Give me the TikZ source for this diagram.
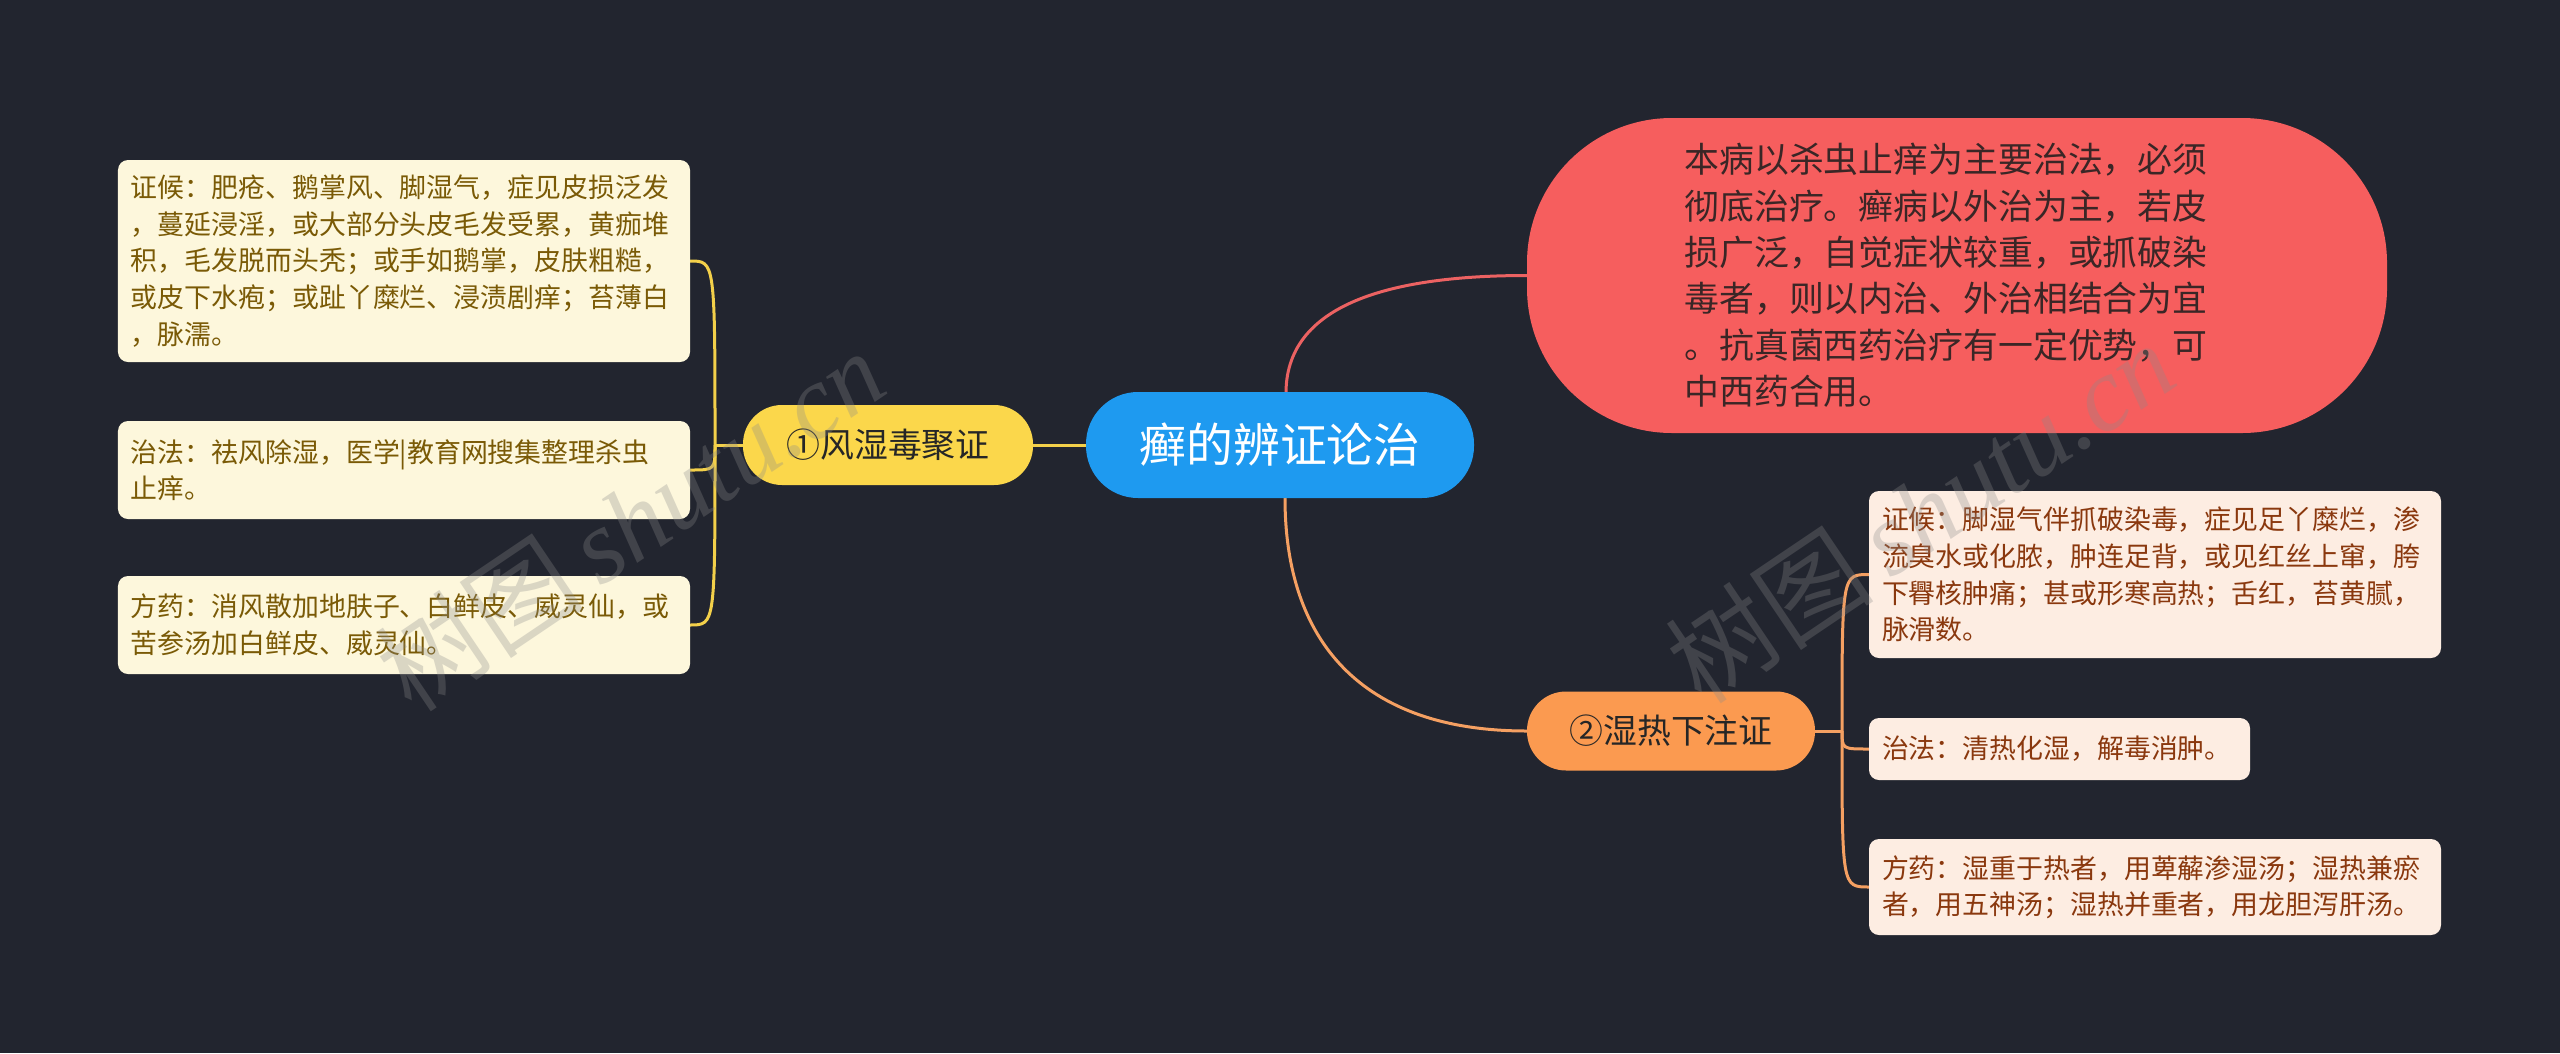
\documentclass[tikz,border=0pt]{standalone}
\usepackage{fontspec}
\setmainfont{Noto Sans CJK SC}
\newfontfamily\wmlatin{Liberation Serif}
\definecolor{bgc}{HTML}{22252F}
\definecolor{rootc}{HTML}{1E9AF0}
\definecolor{yel}{HTML}{FBD74B}
\definecolor{yline}{HTML}{F3D04A}
\definecolor{lboxc}{HTML}{FDF7DC}
\definecolor{ltext}{HTML}{7A5A06}
\definecolor{redc}{HTML}{F65E5E}
\definecolor{rline}{HTML}{EC6262}
\definecolor{redtext}{HTML}{3A2626}
\definecolor{orac}{HTML}{FB9A50}
\definecolor{oline}{HTML}{F5A062}
\definecolor{rboxc}{HTML}{FDEDE2}
\definecolor{rtext}{HTML}{8A380E}
\definecolor{wmc}{HTML}{8A8A8A}
\pgfdeclarelayer{back}
\pgfdeclarelayer{conn}
\pgfsetlayers{back,conn,main}
\begin{document}
\begin{tikzpicture}[x=1bp,y=-1bp,
  rootnode/.style={fill=rootc, text=white, rounded corners=52bp, minimum width=388bp, minimum height=106bp, inner sep=0pt, font=\fontsize{47}{52}\selectfont},
  branchnode/.style={rounded corners=39bp, minimum width=290bp, minimum height=80bp, inner sep=0pt, text=black!85, font=\fontsize{34}{40}\selectfont},
  lbox/.style={fill=lboxc, text=ltext, rounded corners=10bp, align=left, inner xsep=13bp, inner ysep=0pt, font=\fontsize{27}{36.7}\selectfont},
  rbox/.style={fill=rboxc, text=rtext, rounded corners=10bp, align=left, inner xsep=13bp, inner ysep=0pt, font=\fontsize{27}{36.7}\selectfont},
  ylinks/.style={draw=yline, line width=3bp},
  rlinks/.style={draw=rline, line width=3bp},
  olinks/.style={draw=oline, line width=3bp},
  wm/.style={text=wmc, opacity=0.3, inner sep=0pt}
]
\begin{pgfonlayer}{back}
\fill[bgc] (0,0) rectangle (2560,1053);
\end{pgfonlayer}
\useasboundingbox (0,0) rectangle (2560,1053);

% central
\node[rootnode] (root) at (1280,445) {癣的辨证论治};

% branches
\node[branchnode, fill=yel] (b1) at (888,445) {①风湿毒聚证};
\node[branchnode, fill=orac, minimum width=288bp, minimum height=79bp] (b2) at (1671,731) {②湿热下注证};

% red summary
\node[fill=redc, text=redtext, rounded corners=145bp, minimum width=860bp, minimum height=315bp, align=left, text width=545bp, inner xsep=0pt, font=\fontsize{35}{46.5}\selectfont] (sum) at (1957,275.5)
{本病以杀虫止痒为主要治法，必须\\彻底治疗。癣病以外治为主，若皮\\损广泛，自觉症状较重，或抓破染\\毒者，则以内治、外治相结合为宜\\。抗真菌西药治疗有一定优势，可\\中西药合用。};

% left boxes
\node[lbox, text width=546bp, minimum height=202bp] (l1) at (404,261)
{证候：肥疮、鹅掌风、脚湿气，症见皮损泛发\\，蔓延浸淫，或大部分头皮毛发受累，黄痂堆\\积，毛发脱而头秃；或手如鹅掌，皮肤粗糙，\\或皮下水疱；或趾丫糜烂、浸渍剧痒；苔薄白\\，脉濡。};
\node[lbox, text width=546bp, minimum height=98bp] (l2) at (404,470)
{治法：祛风除湿，医学|教育网搜集整理杀虫\\止痒。};
\node[lbox, text width=546bp, minimum height=98bp] (l3) at (404,625)
{方药：消风散加地肤子、白鲜皮、威灵仙，或\\苦参汤加白鲜皮、威灵仙。};

% right boxes
\node[rbox, text width=546bp, minimum height=167bp] (r1) at (2155,574.5)
{证候：脚湿气伴抓破染毒，症见足丫糜烂，渗\\流臭水或化脓，肿连足背，或见红丝上窜，胯\\下臖核肿痛；甚或形寒高热；舌红，苔黄腻，\\脉滑数。};
\node[rbox, text width=355bp, minimum height=62bp] (r2) at (2059.5,749)
{治法：清热化湿，解毒消肿。};
\node[rbox, text width=546bp, minimum height=96bp] (r3) at (2155,887)
{方药：湿重于热者，用萆薢渗湿汤；湿热兼瘀\\者，用五神汤；湿热并重者，用龙胆泻肝汤。};

\coordinate (jl) at (715,445);
\coordinate (jr) at (1842,731);

\begin{pgfonlayer}{conn}
\draw[ylinks] (root.west) -- (b1.east);
\draw[ylinks] (b1.west) -- (jl);
\draw[ylinks] (jl) .. controls (715,261) and (715,261) .. (l1.east);
\draw[ylinks] (jl) .. controls (715,470) and (715,470) .. (l2.east);
\draw[ylinks] (jl) .. controls (715,625) and (715,625) .. (l3.east);
\draw[rlinks] ([xshift=6bp]root.north) .. controls (1287,300) and (1400,275.5) .. (sum.west);
\draw[olinks] ([xshift=5bp]root.south) .. controls (1285,640) and (1360,731) .. (b2.west);
\draw[olinks] (b2.east) -- (jr);
\draw[olinks] (jr) .. controls (1842,574.5) and (1842,574.5) .. (r1.west);
\draw[olinks] (jr) .. controls (1842,749) and (1842,749) .. (r2.west);
\draw[olinks] (jr) .. controls (1842,887) and (1842,887) .. (r3.west);
\end{pgfonlayer}

% watermarks
\node[wm, rotate=34, font=\fontsize{105}{110}\selectfont] (wm1) at (630,520) {树图\,{\wmlatin\itshape shutu.cn}};
\node[wm, rotate=34, font=\fontsize{105}{110}\selectfont] (wm2) at (1920,512) {树图\,{\wmlatin\itshape shutu.cn}};
\end{tikzpicture}
\end{document}
